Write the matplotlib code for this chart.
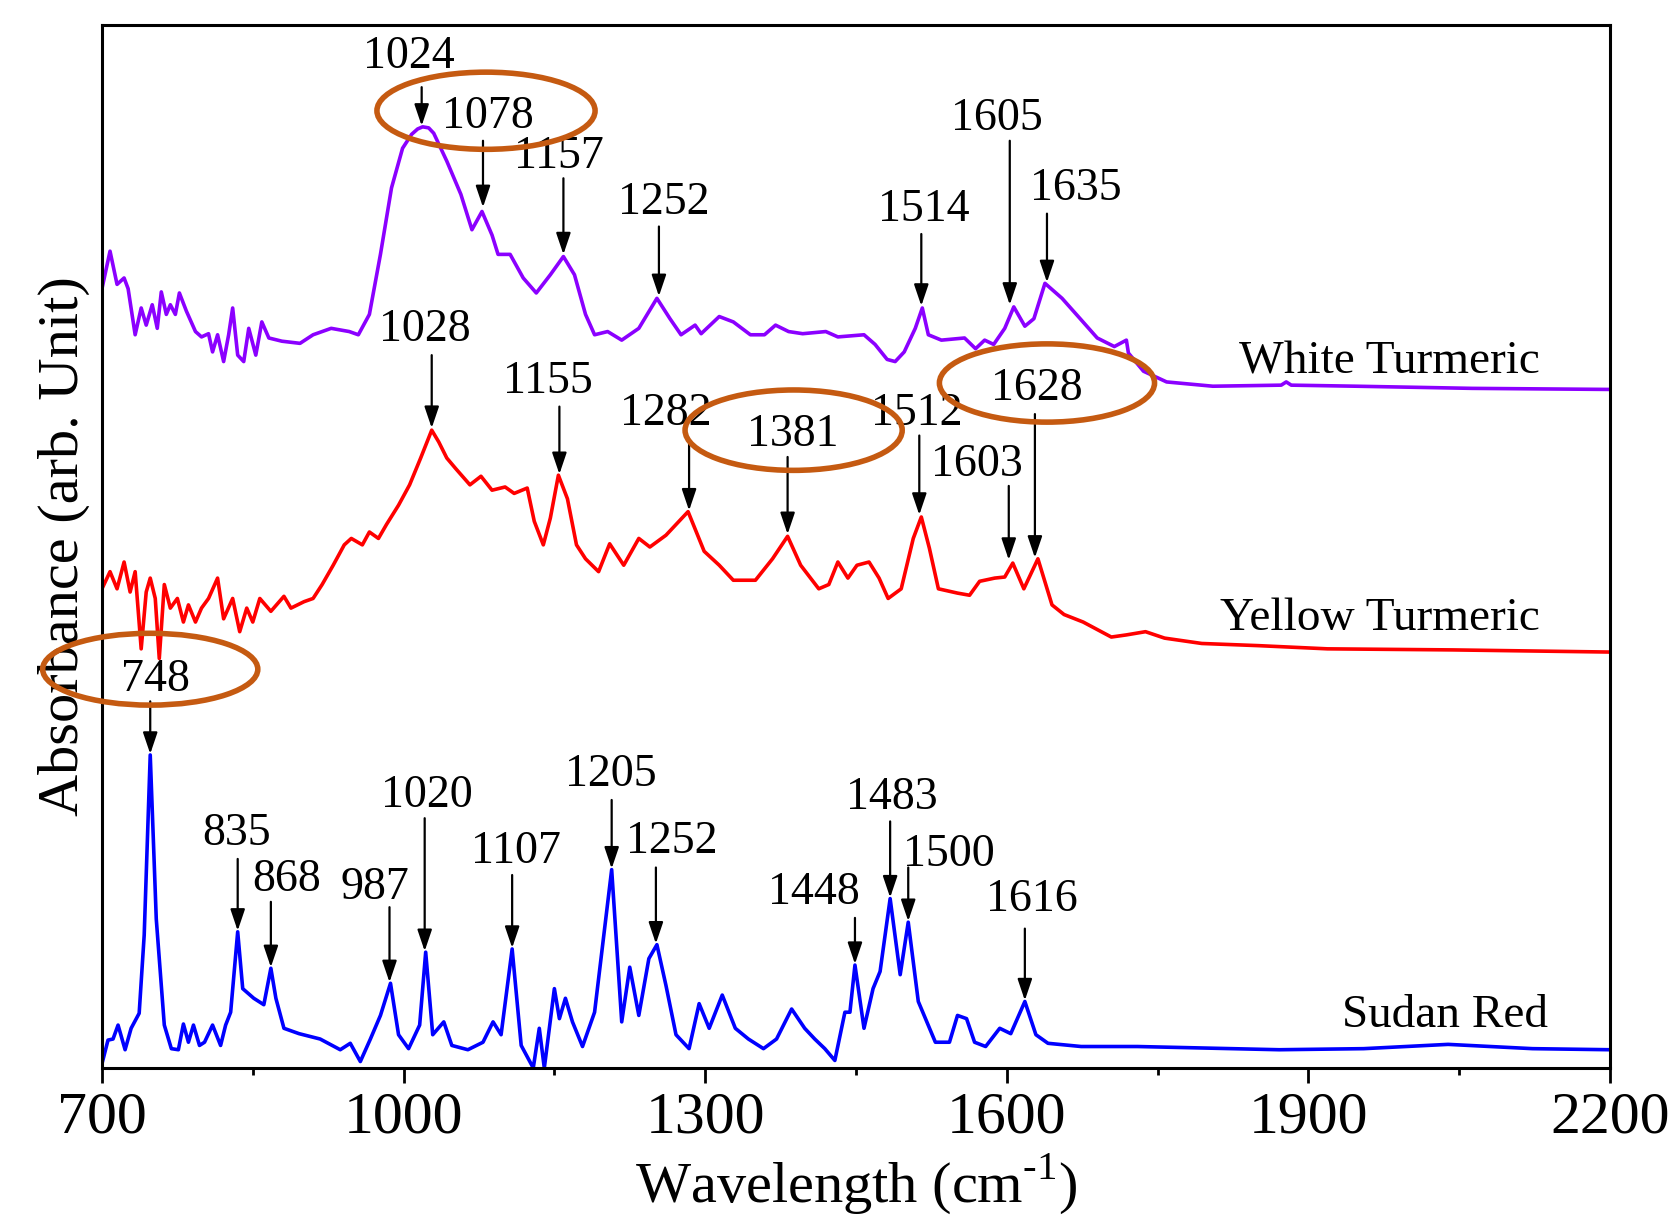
import matplotlib.pyplot as plt
from matplotlib.patches import Ellipse
import numpy as np

plt.rcParams['font.family'] = ['Liberation Serif', 'DejaVu Serif']
plt.rcParams['mathtext.fontset'] = 'custom'
plt.rcParams['mathtext.rm'] = 'Liberation Serif'

# ----- spectra: (wavenumber, offset absorbance in arb. units) -----
white_turmeric = [
    (700, 727), (708, 762), (715, 731), (722, 737), (726, 727), (733, 684), (739, 709),
    (744, 693), (750, 712), (755, 690), (759, 724), (764, 703), (768, 712), (773, 703),
    (777, 723), (784, 706), (793, 687), (799, 682), (806, 685), (810, 668), (815, 684),
    (821, 659), (826, 684), (830, 709), (835, 665), (841, 659), (846, 690), (853, 665),
    (859, 696), (866, 681), (879, 678), (897, 676), (910, 684), (928, 690), (946, 687),
    (955, 684), (966, 703), (977, 759), (988, 821), (999, 858), (1008, 871), (1014, 876),
    (1019, 878), (1025, 877), (1030, 872), (1043, 846), (1057, 815), (1068, 782),
    (1078, 799), (1088, 777), (1094, 759), (1106, 759), (1119, 737), (1132, 723),
    (1146, 740), (1159, 757), (1170, 740), (1181, 703), (1190, 684), (1203, 687),
    (1217, 679), (1234, 690), (1252, 718), (1265, 699), (1276, 684), (1290, 693),
    (1296, 685), (1314, 701), (1328, 696), (1345, 684), (1359, 684), (1370, 693),
    (1383, 687), (1397, 685), (1420, 687), (1432, 682), (1458, 684), (1469, 675),
    (1481, 661), (1489, 659), (1498, 668), (1509, 690), (1516, 709), (1522, 684),
    (1535, 679), (1558, 681), (1569, 671), (1578, 679), (1587, 675), (1598, 690),
    (1607, 710), (1618, 692), (1627, 699), (1638, 732), (1655, 718), (1673, 699),
    (1690, 681), (1707, 673), (1719, 679), (1721, 667), (1736, 650), (1759, 640),
    (1805, 636), (1873, 637), (1878, 640), (1883, 637), (1948, 636), (2063, 634),
    (2200, 633),
]

yellow_turmeric = [
    (700, 447), (708, 463), (715, 447), (722, 472), (728, 444), (733, 463), (739, 391),
    (744, 444), (748, 457), (753, 438), (757, 382), (762, 451), (768, 429), (775, 438),
    (781, 416), (786, 432), (793, 416), (799, 429), (806, 438), (815, 457), (821, 419),
    (830, 438), (837, 407), (844, 429), (850, 416), (857, 438), (868, 426), (881, 440),
    (888, 429), (901, 435), (910, 438), (919, 451), (930, 469), (941, 488), (948, 494),
    (959, 488), (966, 500), (975, 494), (983, 507), (995, 525), (1006, 544), (1017, 569),
    (1028, 595), (1035, 584), (1043, 569), (1052, 559), (1066, 544), (1077, 552),
    (1088, 539), (1101, 542), (1110, 536), (1123, 541), (1130, 510), (1139, 488),
    (1146, 513), (1154, 553), (1163, 531), (1172, 488), (1181, 475), (1194, 463),
    (1205, 489), (1219, 469), (1234, 494), (1245, 486), (1261, 497), (1283, 519),
    (1299, 482), (1314, 469), (1328, 455), (1350, 455), (1367, 475), (1382, 496),
    (1395, 469), (1413, 447), (1423, 451), (1432, 472), (1442, 457), (1451, 469),
    (1463, 472), (1473, 457), (1482, 438), (1495, 447), (1507, 494), (1515, 514),
    (1523, 485), (1532, 447), (1551, 443), (1563, 441), (1573, 454), (1588, 457),
    (1598, 458), (1606, 471), (1617, 447), (1631, 475), (1645, 432), (1657, 423),
    (1676, 416), (1688, 410), (1704, 402), (1719, 404), (1738, 407), (1757, 401),
    (1794, 396), (1850, 394), (1919, 391), (2044, 390), (2200, 388),
]

sudan_red = [
    (700, 4), (706, 26), (711, 27), (716, 40), (723, 17), (729, 37), (737, 51), (742, 124),
    (748, 292), (754, 139), (762, 40), (769, 18), (776, 17), (781, 41), (786, 24), (791, 40),
    (797, 21), (802, 24), (810, 40), (818, 21), (823, 40), (828, 52), (835, 127), (840, 74),
    (851, 65), (861, 59), (868, 93), (873, 65), (881, 37), (896, 32), (917, 27), (937, 17),
    (947, 23), (957, 6), (967, 27), (977, 49), (987, 79), (995, 31), (1005, 18), (1016, 40),
    (1022, 108), (1029, 31), (1040, 43), (1048, 21), (1064, 17), (1079, 24), (1089, 43),
    (1097, 31), (1108, 111), (1117, 21), (1129, 0), (1135, 37), (1140, 0), (1150, 74),
    (1155, 46), (1161, 65), (1168, 43), (1178, 20), (1190, 52), (1207, 185), (1217, 43),
    (1225, 94), (1234, 49), (1244, 102), (1252, 115), (1261, 77), (1271, 31), (1284, 18),
    (1294, 60), (1304, 37), (1317, 68), (1330, 37), (1343, 27), (1358, 18), (1371, 27),
    (1386, 55), (1399, 37), (1409, 27), (1419, 18), (1429, 7), (1439, 52), (1444, 52),
    (1449, 96), (1458, 37), (1467, 74), (1474, 90), (1484, 158), (1494, 87), (1502, 136),
    (1512, 62), (1529, 24), (1543, 24), (1551, 49), (1560, 46), (1568, 24), (1579, 20),
    (1593, 37), (1604, 32), (1618, 62), (1629, 31), (1641, 23), (1674, 20), (1730, 20),
    (1871, 17), (1955, 18), (2039, 22), (2123, 18), (2200, 17),
]

# ----- peak labels: text, label x, label baseline, arrow x, arrow top, arrow tip -----
white_peaks = [
    ('1024', 1005, 933, 1018, 915, 879),
    ('1078', 1084, 877, 1079, 865, 803),
    ('1157', 1155, 840, 1159, 830, 759),
    ('1252', 1259, 797, 1254, 785, 720),
    ('1514', 1517, 790, 1515, 778, 711),
    ('1605', 1590, 875, 1603, 865, 712),
    ('1635', 1669, 810, 1640, 797, 733),
]
yellow_peaks = [
    ('1028', 1021, 678, 1028, 665, 597),
    ('1155', 1144, 630, 1155, 617, 554),
    ('1282', 1261, 600, 1284, 587, 520),
    ('1381', 1387, 580, 1382, 570, 498),
    ('1512', 1510, 600, 1513, 590, 516),
    ('1603', 1570, 552, 1602, 543, 474),
    ('1628', 1630, 623, 1628, 610, 476),
]
sudan_peaks = [
    ('748', 753, 352, 748, 342, 293),
    ('835', 834, 208, 835, 195, 128),
    ('868', 884, 165, 868, 155, 94),
    ('987', 972, 158, 986, 150, 80),
    ('1020', 1023, 243, 1021, 233, 109),
    ('1107', 1112, 191, 1108, 180, 112),
    ('1205', 1206, 263, 1207, 250, 186),
    ('1252', 1267, 201, 1251, 187, 116),
    ('1448', 1408, 153, 1449, 140, 97),
    ('1483', 1486, 242, 1484, 230, 159),
    ('1500', 1542, 188, 1502, 187, 137),
    ('1616', 1625, 146, 1618, 130, 63),
]

# highlighted peaks (orange rings): centre x, centre y, width, height
rings = [
    (1082, 893, 217, 72),
    (1388, 595, 216, 75),
    (1640, 639, 214, 73),
    (748, 372, 214, 67),
]

curve_names = ['White Turmeric', 'Yellow Turmeric', 'Sudan Red']
name_pos = [(2130, 648), (2130, 409), (2138, 38)]
colors = ['#8B00FF', '#FF0000', '#0000FF']

# ----- plot -----
fig = plt.figure(figsize=(16.8, 12.25), dpi=100)
ax = fig.add_axes([0.0607, 0.1282, 0.8976, 0.8514])

for pts, c in zip([white_turmeric, yellow_turmeric, sudan_red], colors):
    w, a = np.array(pts).T
    ax.plot(w, a, color=c, lw=2.6, solid_joinstyle='round')

arrow = dict(arrowstyle='-|>,head_length=0.65,head_width=0.22', mutation_scale=20,
             lw=1.6, color='black', shrinkA=0, shrinkB=0)
for peaks in [white_peaks, yellow_peaks, sudan_peaks]:
    for txt, lx, ly, xa, y0, y1 in peaks:
        ax.text(lx, ly, txt, ha='center', va='baseline', fontsize=33)
        ax.annotate('', xy=(xa, y1), xytext=(xa, y0), arrowprops=arrow)

for name, (nx, ny) in zip(curve_names, name_pos):
    ax.text(nx, ny, name, ha='right', va='baseline', fontsize=34)

for cx, cy, rw, rh in rings:
    ax.add_patch(Ellipse((cx, cy), rw, rh, fill=False, edgecolor='#C55A11',
                         lw=4, clip_on=False, zorder=5))

ax.set_xlim(700, 2200)
ax.set_ylim(0, 973)
ax.set_xticks(np.arange(700, 2201, 300))
ax.set_xticks(np.arange(850, 2200, 300), minor=True)
ax.set_yticks([])
ax.tick_params(axis='x', which='major', direction='out', length=11, width=2,
               labelsize=43, pad=6)
ax.tick_params(axis='x', which='minor', direction='out', length=5, width=2)
for s in ax.spines.values():
    s.set_linewidth(2.2)

ax.set_xlabel('Wavelength (cm$^{\\mathregular{\u2010}1}$)', fontsize=42)
ax.xaxis.set_label_coords(0.5, -0.08)
ax.set_ylabel('Absorbance (arb. Unit)', fontsize=42)
ax.yaxis.set_label_coords(-0.008, 0.5)

fig.savefig('out.png', dpi=100)
